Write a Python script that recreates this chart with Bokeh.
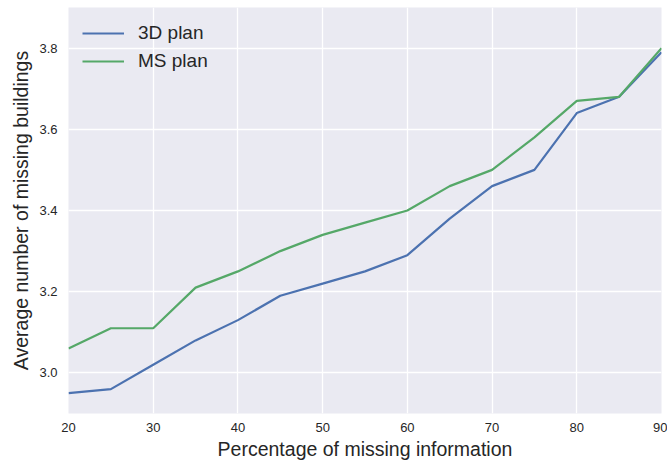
from bokeh.plotting import figure
from bokeh.models import Range1d, Legend, LegendItem, FixedTicker
from bokeh.embed import file_html
from bokeh.resources import INLINE

# Missing-information percentage and average missing buildings per plan type
percent_missing = [20, 25, 30, 35, 40, 45, 50, 55, 60, 65, 70, 75, 80, 85, 90]
plan_3d = [2.95, 2.96, 3.02, 3.08, 3.13, 3.19, 3.22, 3.25, 3.29, 3.38, 3.46, 3.50, 3.64, 3.68, 3.79]
plan_ms = [3.06, 3.11, 3.11, 3.21, 3.25, 3.30, 3.34, 3.37, 3.40, 3.46, 3.50, 3.58, 3.67, 3.68, 3.80]
x_ticks = [20, 30, 40, 50, 60, 70, 80, 90]
y_ticks = [3.0, 3.2, 3.4, 3.6, 3.8]

FONT = "Liberation Sans"
TEXT = "#262626"

p = figure(width=667, height=464, output_backend="svg", toolbar_location=None,
           x_range=Range1d(20, 90), y_range=Range1d(2.9, 3.9),
           min_border_left=68, min_border_right=6, min_border_top=7, min_border_bottom=51)

p.background_fill_color = "#EAEAF2"
p.border_fill_color = "white"
p.outline_line_color = None

for ax in (p.xaxis[0], p.yaxis[0]):
    ax.axis_line_color = None
    ax.major_tick_line_color = None
    ax.minor_tick_line_color = None
    ax.major_tick_out = 0
    ax.major_tick_in = 0
    ax.minor_tick_out = 0
    ax.minor_tick_in = 0
    ax.major_label_text_font = FONT
    ax.major_label_text_font_size = "13px"
    ax.major_label_text_color = TEXT
    ax.axis_label_text_font = FONT
    ax.axis_label_text_font_size = "19.5px"
    ax.axis_label_text_font_style = "normal"
    ax.axis_label_text_color = TEXT

p.xaxis.ticker = FixedTicker(ticks=x_ticks)
p.yaxis.ticker = FixedTicker(ticks=y_ticks)
p.yaxis.major_label_overrides = {v: f"{v:.1f}" for v in y_ticks}
p.xaxis.major_label_standoff = 9
p.yaxis.major_label_standoff = 11
p.xaxis.axis_label = "Percentage of missing information"
p.yaxis.axis_label = "Average number of missing buildings"
p.xaxis.axis_label_standoff = 3
p.yaxis.axis_label_standoff = 4

p.grid.grid_line_color = "white"
p.grid.grid_line_width = 1.3
p.xgrid.ticker = FixedTicker(ticks=x_ticks)
p.ygrid.ticker = FixedTicker(ticks=y_ticks)

r1 = p.line(percent_missing, plan_3d, line_color="#4C72B0", line_width=2.2)
r2 = p.line(percent_missing, plan_ms, line_color="#55A868", line_width=2.2)

legend = Legend(items=[LegendItem(label="3D plan", renderers=[r1]),
                       LegendItem(label="MS plan", renderers=[r2])],
                location="top_left", margin=14, padding=10, spacing=4,
                glyph_width=42, glyph_height=24, label_standoff=14,
                label_text_font=FONT, label_text_font_size="19px",
                label_text_color=TEXT,
                background_fill_alpha=0, border_line_color=None)
p.add_layout(legend)

open("out.html", "w").write(file_html(p, INLINE))
